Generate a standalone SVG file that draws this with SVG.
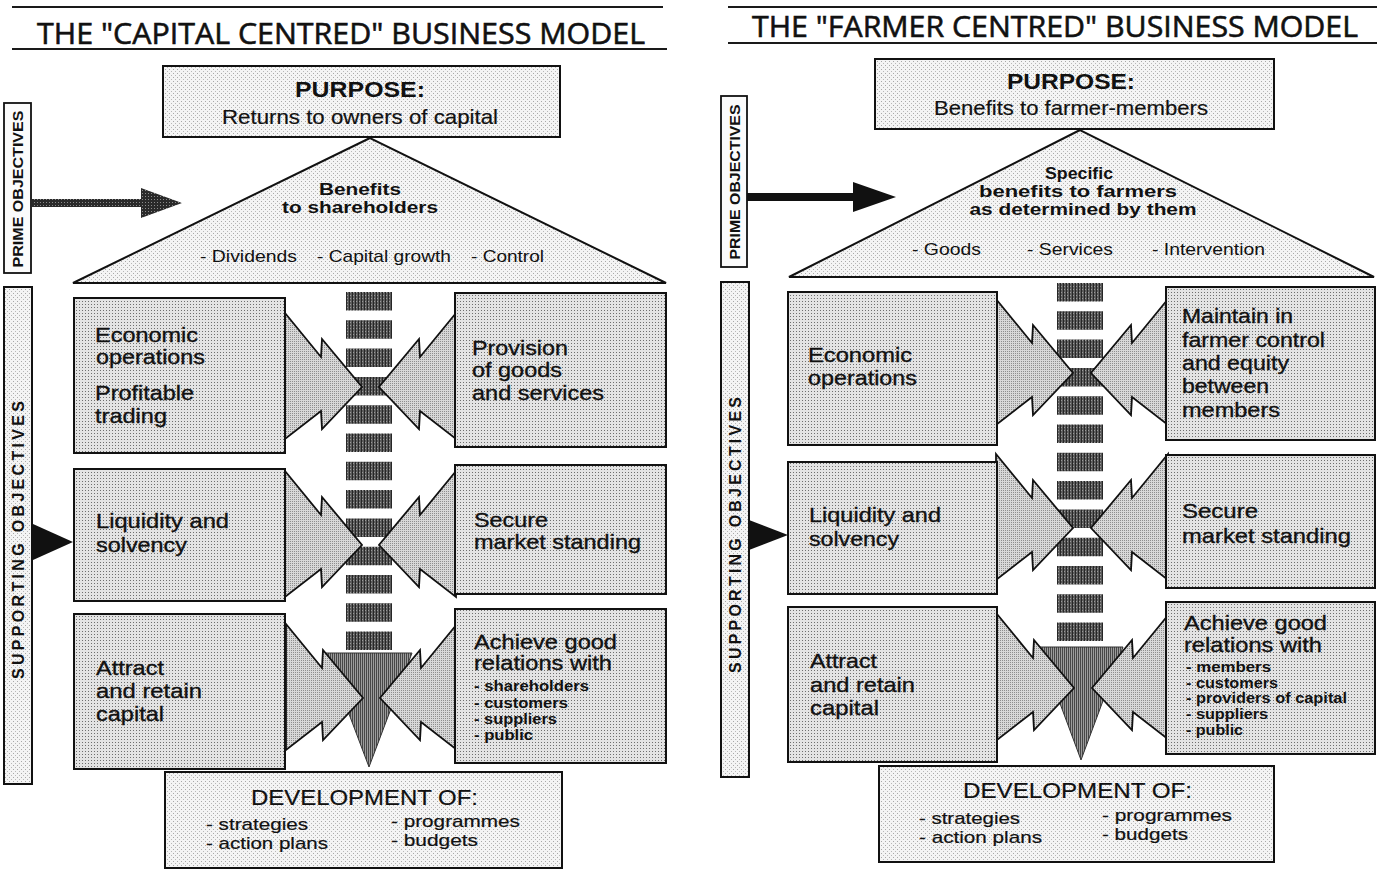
<svg xmlns="http://www.w3.org/2000/svg" xmlns:xlink="http://www.w3.org/1999/xlink" width="1379" height="873" viewBox="0 0 1379 873">
  <defs>
    <!-- dotted screen used inside the objective boxes -->
    <pattern id="boxTex" width="3" height="3" patternUnits="userSpaceOnUse">
      <rect width="3" height="3" fill="#e3e3e3"/>
      <rect x="1" y="1" width="1" height="1" fill="#6e6e6e"/>
    </pattern>
    <!-- sparse screen for purpose / triangle / development panels -->
    <pattern id="lightTex" width="4" height="4" patternUnits="userSpaceOnUse">
      <rect width="4" height="4" fill="#f4f4f4"/>
      <rect x="1" y="1" width="1" height="1" fill="#a8a8a8"/>
      <rect x="3" y="3" width="1" height="1" fill="#b8b8b8"/>
    </pattern>
    <!-- fine screen for the converging arrows -->
    <pattern id="arrowTex" width="2" height="2" patternUnits="userSpaceOnUse">
      <rect width="2" height="2" fill="#d8d8d8"/>
      <rect width="1" height="1" fill="#8e8e8e"/>
    </pattern>
    <!-- dark streaked screen for the central column -->
    <pattern id="darkTex" width="3" height="3" patternUnits="userSpaceOnUse">
      <rect width="3" height="3" fill="#5c5c5c"/>
      <rect x="1" width="1" height="3" fill="#262626"/>
      <rect x="2" y="1" width="1" height="1" fill="#9a9a9a"/>
    </pattern>
    <!-- near-black screen for the prime objective pointer -->
    <pattern id="inkTex" width="3" height="3" patternUnits="userSpaceOnUse">
      <rect width="3" height="3" fill="#2a2a2a"/>
      <rect x="1" y="1" width="1" height="1" fill="#8a8a8a"/>
    </pattern>
    <!-- striped screen for the downward arrow -->
    <pattern id="downTex" width="2" height="2" patternUnits="userSpaceOnUse">
      <rect width="2" height="2" fill="#9c9c9c"/>
      <rect width="1" height="2" fill="#474747"/>
    </pattern>
    <!-- double-barbed arrowhead, tip at the origin, pointing right -->
    <path id="dart" d="M-77,-74 L-41,-30 L-40,-48 L0,0 L-40,42 L-41,24 L-77,52 Z"/>
  </defs>
  <style>
    .box { fill: url(#boxTex); stroke: #111; stroke-width: 2; }
    .soft { fill: url(#lightTex); stroke: #111; stroke-width: 2; }
    .plain { fill: #fbfbfb; stroke: #111; stroke-width: 1.8; }
    .dart { fill: url(#arrowTex); stroke: #111; stroke-width: 1.8; stroke-linejoin: miter; }
    .down { fill: url(#downTex); stroke: #333; stroke-width: 1; }
    .dashcol { stroke: url(#darkTex); stroke-width: 46; stroke-dasharray: 18.5 9.8; fill: none; }
    .rule { stroke: #1a1a1a; stroke-width: 2; }
    .solid { fill: #111; }
    .inkfill { fill: url(#inkTex); }
    text { font-family: "Liberation Sans", Arial, sans-serif; fill: #111; }
    .title { font-family: "Open Sans", "Liberation Sans", sans-serif; font-size: 30px; font-weight: 400; stroke: #111; stroke-width: 0.6; }
    .lbl { font-size: 21px; stroke: #111; stroke-width: 0.35; }
    .sub { font-size: 15px; font-weight: bold; }
    .hd { font-size: 22px; font-weight: bold; }
    .body { font-size: 21px; stroke: #111; stroke-width: 0.2; }
    .tri { font-size: 17px; font-weight: bold; }
    .bul { font-size: 17px; }
    .dev { font-size: 22px; stroke: #111; stroke-width: 0.2; }
    .devi { font-size: 17px; stroke: #111; stroke-width: 0.2; }
    .side { font-size: 15px; font-weight: bold; }
    .side2 { font-size: 16px; font-weight: bold; }
  </style>

  <rect width="1379" height="873" fill="#ffffff"/>

  <!-- ===================== CAPITAL CENTRED MODEL ===================== -->
  <g id="capital-model">
    <g id="cap-title">
      <line class="rule" x1="12" y1="7" x2="663" y2="7"/>
      <line class="rule" x1="12" y1="49" x2="667" y2="49"/>
      <text class="title" x="37" y="44" textLength="608" lengthAdjust="spacingAndGlyphs">THE "CAPITAL CENTRED" BUSINESS MODEL</text>
    </g>

    <g id="cap-purpose">
      <rect class="soft" x="163" y="66" width="397" height="71"/>
      <text class="hd" x="360" y="97" text-anchor="middle" textLength="130" lengthAdjust="spacingAndGlyphs">PURPOSE:</text>
      <text class="body" x="222" y="124" textLength="276" lengthAdjust="spacingAndGlyphs">Returns to owners of capital</text>
    </g>

    <g id="cap-benefits">
      <polygon class="soft" points="370,138 73,283 666,283"/>
      <text class="tri" x="360" y="195" text-anchor="middle" textLength="82" lengthAdjust="spacingAndGlyphs">Benefits</text>
      <text class="tri" x="360" y="213" text-anchor="middle" textLength="156" lengthAdjust="spacingAndGlyphs">to shareholders</text>
      <text class="bul" x="200" y="262" textLength="97" lengthAdjust="spacingAndGlyphs">- Dividends</text>
      <text class="bul" x="317" y="262" textLength="134" lengthAdjust="spacingAndGlyphs">- Capital growth</text>
      <text class="bul" x="471" y="262" textLength="73" lengthAdjust="spacingAndGlyphs">- Control</text>
    </g>

    <g id="cap-prime-label">
      <rect class="plain" x="4" y="103" width="27" height="170"/>
      <text class="side" transform="translate(23,189) rotate(-90)" text-anchor="middle" textLength="157" lengthAdjust="spacingAndGlyphs">PRIME OBJECTIVES</text>
    </g>

    <g id="cap-supporting-label">
      <rect class="soft" x="4" y="287" width="28" height="497"/>
      <text class="side2" transform="translate(24,540) rotate(-90)" text-anchor="middle" textLength="278" lengthAdjust="spacing">SUPPORTING OBJECTIVES</text>
    </g>

    <g id="cap-connectors">
      <polygon class="inkfill" points="32,199 141,199 141,188 182,203 141,218 141,207 32,207"/>
      <polygon class="solid" points="33,524 73,542 33,560"/>
      <line class="dashcol" x1="369" y1="292" x2="369" y2="651"/>
      <polygon class="down" points="326,653 412,653 369,767"/>
      <use href="#dart" class="dart" transform="translate(362,387)"/>
      <use href="#dart" class="dart" transform="translate(379,387) scale(-1,1)"/>
      <use href="#dart" class="dart" transform="translate(362,545)"/>
      <use href="#dart" class="dart" transform="translate(379,545) scale(-1,1)"/>
      <use href="#dart" class="dart" transform="translate(363,698)"/>
      <use href="#dart" class="dart" transform="translate(380,698) scale(-1,1)"/>
    </g>

    <g id="cap-economic">
      <rect class="box" x="74" y="298" width="211" height="155"/>
      <text class="lbl" x="95" y="342" textLength="103" lengthAdjust="spacingAndGlyphs">Economic</text>
      <text class="lbl" x="96" y="364" textLength="109" lengthAdjust="spacingAndGlyphs">operations</text>
      <text class="lbl" x="95" y="400" textLength="99" lengthAdjust="spacingAndGlyphs">Profitable</text>
      <text class="lbl" x="95" y="423" textLength="72" lengthAdjust="spacingAndGlyphs">trading</text>
    </g>
    <g id="cap-provision">
      <rect class="box" x="455" y="293" width="211" height="154"/>
      <text class="lbl" x="472" y="355" textLength="96" lengthAdjust="spacingAndGlyphs">Provision</text>
      <text class="lbl" x="472" y="377" textLength="90" lengthAdjust="spacingAndGlyphs">of goods</text>
      <text class="lbl" x="472" y="400" textLength="132" lengthAdjust="spacingAndGlyphs">and services</text>
    </g>
    <g id="cap-liquidity">
      <rect class="box" x="74" y="469" width="211" height="132"/>
      <text class="lbl" x="96" y="528" textLength="133" lengthAdjust="spacingAndGlyphs">Liquidity and</text>
      <text class="lbl" x="96" y="552" textLength="91" lengthAdjust="spacingAndGlyphs">solvency</text>
    </g>
    <g id="cap-market">
      <rect class="box" x="455" y="465" width="211" height="129"/>
      <text class="lbl" x="474" y="527" textLength="74" lengthAdjust="spacingAndGlyphs">Secure</text>
      <text class="lbl" x="474" y="549" textLength="167" lengthAdjust="spacingAndGlyphs">market standing</text>
    </g>
    <g id="cap-attract">
      <rect class="box" x="74" y="614" width="211" height="155"/>
      <text class="lbl" x="96" y="675" textLength="68" lengthAdjust="spacingAndGlyphs">Attract</text>
      <text class="lbl" x="96" y="698" textLength="106" lengthAdjust="spacingAndGlyphs">and retain</text>
      <text class="lbl" x="96" y="721" textLength="68" lengthAdjust="spacingAndGlyphs">capital</text>
    </g>
    <g id="cap-relations">
      <rect class="box" x="455" y="609" width="211" height="154"/>
      <text class="lbl" x="474" y="649" textLength="143" lengthAdjust="spacingAndGlyphs">Achieve good</text>
      <text class="lbl" x="474" y="670" textLength="138" lengthAdjust="spacingAndGlyphs">relations with</text>
      <text class="sub" x="474" y="691" textLength="115" lengthAdjust="spacingAndGlyphs">- shareholders</text>
      <text class="sub" x="474" y="708" textLength="94" lengthAdjust="spacingAndGlyphs">- customers</text>
      <text class="sub" x="474" y="724" textLength="83" lengthAdjust="spacingAndGlyphs">- suppliers</text>
      <text class="sub" x="474" y="740" textLength="59" lengthAdjust="spacingAndGlyphs">- public</text>
    </g>

    <g id="cap-development">
      <rect class="soft" x="165" y="772" width="397" height="96"/>
      <text class="dev" x="251" y="805" textLength="227" lengthAdjust="spacingAndGlyphs">DEVELOPMENT OF:</text>
      <text class="devi" x="206" y="830" textLength="102" lengthAdjust="spacingAndGlyphs">- strategies</text>
      <text class="devi" x="206" y="849" textLength="122" lengthAdjust="spacingAndGlyphs">- action plans</text>
      <text class="devi" x="391" y="827" textLength="129" lengthAdjust="spacingAndGlyphs">- programmes</text>
      <text class="devi" x="391" y="846" textLength="87" lengthAdjust="spacingAndGlyphs">- budgets</text>
    </g>
  </g>

  <!-- ===================== FARMER CENTRED MODEL ===================== -->
  <g id="farmer-model">
    <g id="farm-title">
      <line class="rule" x1="728" y1="7" x2="1377" y2="7"/>
      <line class="rule" x1="728" y1="43" x2="1377" y2="43"/>
      <text class="title" x="752" y="37" textLength="606" lengthAdjust="spacingAndGlyphs">THE "FARMER CENTRED" BUSINESS MODEL</text>
    </g>

    <g id="farm-purpose">
      <rect class="soft" x="875" y="59" width="399" height="70"/>
      <text class="hd" x="1071" y="89" text-anchor="middle" textLength="128" lengthAdjust="spacingAndGlyphs">PURPOSE:</text>
      <text class="body" x="934" y="115" textLength="274" lengthAdjust="spacingAndGlyphs">Benefits to farmer-members</text>
    </g>

    <g id="farm-benefits">
      <polygon class="soft" points="1080,130 789,277 1374,277"/>
      <text class="tri" x="1079" y="179" text-anchor="middle" textLength="68" lengthAdjust="spacingAndGlyphs">Specific</text>
      <text class="tri" x="1078" y="197" text-anchor="middle" textLength="198" lengthAdjust="spacingAndGlyphs">benefits to farmers</text>
      <text class="tri" x="1083" y="215" text-anchor="middle" textLength="227" lengthAdjust="spacingAndGlyphs">as determined by them</text>
      <text class="bul" x="912" y="255" textLength="69" lengthAdjust="spacingAndGlyphs">- Goods</text>
      <text class="bul" x="1027" y="255" textLength="86" lengthAdjust="spacingAndGlyphs">- Services</text>
      <text class="bul" x="1152" y="255" textLength="113" lengthAdjust="spacingAndGlyphs">- Intervention</text>
    </g>

    <g id="farm-prime-label">
      <rect class="plain" x="721" y="96" width="26" height="171"/>
      <text class="side" transform="translate(740,182) rotate(-90)" text-anchor="middle" textLength="155" lengthAdjust="spacingAndGlyphs">PRIME OBJECTIVES</text>
    </g>

    <g id="farm-supporting-label">
      <rect class="soft" x="721" y="282" width="28" height="495"/>
      <text class="side2" transform="translate(741,535) rotate(-90)" text-anchor="middle" textLength="276" lengthAdjust="spacing">SUPPORTING OBJECTIVES</text>
    </g>

    <g id="farm-connectors">
      <polygon class="solid" points="747,193 853,193 853,182 896,197 853,212 853,201 747,201"/>
      <polygon class="solid" points="749,520 788,535 749,550"/>
      <line class="dashcol" x1="1080" y1="283" x2="1080" y2="642"/>
      <polygon class="down" points="1039,647 1123,647 1081,760"/>
      <use href="#dart" class="dart" transform="translate(1073,373)"/>
      <use href="#dart" class="dart" transform="translate(1091,373) scale(-1,1)"/>
      <use href="#dart" class="dart" transform="translate(1073,528)"/>
      <use href="#dart" class="dart" transform="translate(1091,528) scale(-1,1)"/>
      <use href="#dart" class="dart" transform="translate(1074,688)"/>
      <use href="#dart" class="dart" transform="translate(1092,688) scale(-1,1)"/>
    </g>

    <g id="farm-economic">
      <rect class="box" x="788" y="292" width="209" height="153"/>
      <text class="lbl" x="808" y="362" textLength="104" lengthAdjust="spacingAndGlyphs">Economic</text>
      <text class="lbl" x="808" y="385" textLength="109" lengthAdjust="spacingAndGlyphs">operations</text>
    </g>
    <g id="farm-control">
      <rect class="box" x="1166" y="287" width="209" height="153"/>
      <text class="lbl" x="1182" y="323" textLength="111" lengthAdjust="spacingAndGlyphs">Maintain in</text>
      <text class="lbl" x="1182" y="347" textLength="143" lengthAdjust="spacingAndGlyphs">farmer control</text>
      <text class="lbl" x="1182" y="370" textLength="107" lengthAdjust="spacingAndGlyphs">and equity</text>
      <text class="lbl" x="1182" y="393" textLength="87" lengthAdjust="spacingAndGlyphs">between</text>
      <text class="lbl" x="1182" y="417" textLength="98" lengthAdjust="spacingAndGlyphs">members</text>
    </g>
    <g id="farm-liquidity">
      <rect class="box" x="788" y="462" width="209" height="132"/>
      <text class="lbl" x="809" y="522" textLength="132" lengthAdjust="spacingAndGlyphs">Liquidity and</text>
      <text class="lbl" x="809" y="546" textLength="90" lengthAdjust="spacingAndGlyphs">solvency</text>
    </g>
    <g id="farm-market">
      <rect class="box" x="1166" y="455" width="209" height="133"/>
      <text class="lbl" x="1182" y="518" textLength="76" lengthAdjust="spacingAndGlyphs">Secure</text>
      <text class="lbl" x="1182" y="543" textLength="169" lengthAdjust="spacingAndGlyphs">market standing</text>
    </g>
    <g id="farm-attract">
      <rect class="box" x="788" y="607" width="209" height="155"/>
      <text class="lbl" x="810" y="668" textLength="67" lengthAdjust="spacingAndGlyphs">Attract</text>
      <text class="lbl" x="810" y="692" textLength="105" lengthAdjust="spacingAndGlyphs">and retain</text>
      <text class="lbl" x="810" y="715" textLength="69" lengthAdjust="spacingAndGlyphs">capital</text>
    </g>
    <g id="farm-relations">
      <rect class="box" x="1166" y="602" width="209" height="152"/>
      <text class="lbl" x="1184" y="630" textLength="143" lengthAdjust="spacingAndGlyphs">Achieve good</text>
      <text class="lbl" x="1184" y="652" textLength="138" lengthAdjust="spacingAndGlyphs">relations with</text>
      <text class="sub" x="1186" y="672" textLength="85" lengthAdjust="spacingAndGlyphs">- members</text>
      <text class="sub" x="1186" y="688" textLength="92" lengthAdjust="spacingAndGlyphs">- customers</text>
      <text class="sub" x="1186" y="703" textLength="161" lengthAdjust="spacingAndGlyphs">- providers of capital</text>
      <text class="sub" x="1186" y="719" textLength="82" lengthAdjust="spacingAndGlyphs">- suppliers</text>
      <text class="sub" x="1186" y="735" textLength="57" lengthAdjust="spacingAndGlyphs">- public</text>
    </g>

    <g id="farm-development">
      <rect class="soft" x="879" y="766" width="395" height="96"/>
      <text class="dev" x="963" y="798" textLength="229" lengthAdjust="spacingAndGlyphs">DEVELOPMENT OF:</text>
      <text class="devi" x="919" y="824" textLength="101" lengthAdjust="spacingAndGlyphs">- strategies</text>
      <text class="devi" x="919" y="843" textLength="123" lengthAdjust="spacingAndGlyphs">- action plans</text>
      <text class="devi" x="1102" y="821" textLength="130" lengthAdjust="spacingAndGlyphs">- programmes</text>
      <text class="devi" x="1102" y="840" textLength="86" lengthAdjust="spacingAndGlyphs">- budgets</text>
    </g>
  </g>
</svg>
